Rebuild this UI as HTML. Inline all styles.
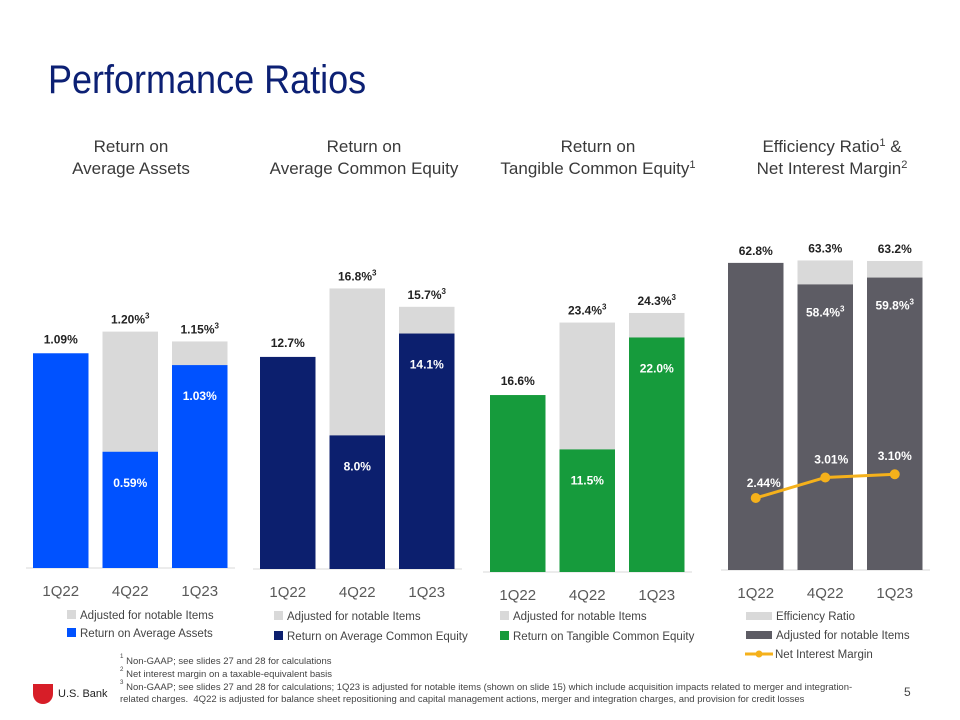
<!DOCTYPE html>
<html><head><meta charset="utf-8"><style>
body{margin:0;width:960px;height:720px;background:#fff;font-family:"Liberation Sans",sans-serif;position:relative;overflow:hidden}
.t{position:absolute;white-space:nowrap}
.h{position:absolute;text-align:center;font-size:17px;color:#3a3a3a;line-height:22px;width:230px}
.fn{position:absolute;left:120px;font-size:9.5px;color:#444;line-height:12px;width:760px}
sup{font-size:65%;line-height:0;vertical-align:6px}
</style></head><body>
<div class="t" style="left:48px;top:58px;font-size:40px;color:#0c2074;transform:scaleX(0.9);transform-origin:0 0">Performance Ratios</div>
<div class="h" style="left:16px;top:136px">Return on<br>Average Assets</div>
<div class="h" style="left:249px;top:136px">Return on<br>Average Common Equity</div>
<div class="h" style="left:483px;top:136px">Return on<br>Tangible Common Equity<sup>1</sup></div>
<div class="h" style="left:717px;top:136px">Efficiency Ratio<sup>1</sup> &amp;<br>Net Interest Margin<sup>2</sup></div>
<svg id="c" width="960" height="720" style="position:absolute;left:0;top:0"></svg>
<div class="fn" style="top:656px"><sup>1</sup> Non-GAAP; see slides 27 and 28 for calculations</div>
<div class="fn" style="top:669px"><sup>2</sup> Net interest margin on a taxable-equivalent basis</div>
<div class="fn" style="top:682px"><sup>3</sup> Non-GAAP; see slides 27 and 28 for calculations; 1Q23 is adjusted for notable items (shown on slide 15) which include acquisition impacts related to merger and integration-related charges.&nbsp; 4Q22 is adjusted for balance sheet repositioning and capital management actions, merger and integration charges, and provision for credit losses</div>
<div style="position:absolute;left:33px;top:684px;width:20px;height:20px;background:#d71e28;border-radius:0 0 10px 10px"></div>
<div class="t" style="left:58px;top:688px;font-size:11px;color:#222">U.S. Bank</div>
<div class="t" style="left:904px;top:685px;font-size:12px;color:#444">5</div>
<script>
const categories=["1Q22","4Q22","1Q23"];
const roaaReported=[1.09,0.59,1.03];
const roaaAdjusted=[null,1.20,1.15];
const roaceReported=[12.7,8.0,14.1];
const roaceAdjusted=[null,16.8,15.7];
const rotceReported=[16.6,11.5,22.0];
const rotceAdjusted=[null,23.4,24.3];
const effReported=[62.8,63.3,63.2];
const effAdjusted=[null,58.4,59.8];
const nimValues=[2.44,3.01,3.10];
const roaaLabels=["1.09%","0.59%","1.03%"],roaaAdjLabels=["","1.20%","1.15%"];
const roaceLabels=["12.7%","8.0%","14.1%"],roaceAdjLabels=["","16.8%","15.7%"];
const rotceLabels=["16.6%","11.5%","22.0%"],rotceAdjLabels=["","23.4%","24.3%"];
const effLabels=["62.8%","63.3%","63.2%"],effAdjLabels=["","58.4%","59.8%"];
const nimLabels=["2.44%","3.01%","3.10%"];

const svg=document.getElementById('c');const NS="http://www.w3.org/2000/svg";
function el(t,a,p){const e=document.createElementNS(NS,t);for(const k in a)e.setAttribute(k,a[k]);(p||svg).appendChild(e);return e;}
function txt(x,y,s,o){const e=el('text',Object.assign({x:x,y:y,'font-family':'Liberation Sans, sans-serif','font-size':12,'text-anchor':'middle'},o||{}));
  const parts=s.split('^');e.textContent=parts[0];if(parts[1]){const ts=el('tspan',{dy:-5,'font-size':8},e);ts.textContent=parts[1];}return e;}

function chart(cfg){
  const g=el('g',{});
  
  
  const y=v=>cfg.base-v*cfg.scale;
  const ax=el('line',{x1:cfg.x0-7,x2:cfg.x0+202,y1:cfg.base,y2:cfg.base,stroke:'#d9d9d9','stroke-width':1},g);
  
  
  categories.forEach((c,i)=>{
    const bx=cfg.x0+i*69.5, w=55.5, cx=bx+w/2;
    if(cfg.grey){
      const tot=cfg.rep[i];
      const r1=el('rect',{x:bx,y:y(tot),width:w,height:cfg.base-y(tot),fill:'#d9d9d9'},g);
      
      
      const inner=cfg.adj[i]!=null?cfg.adj[i]:tot;
      const r2=el('rect',{x:bx,y:y(inner),width:w,height:cfg.base-y(inner),fill:cfg.color},g);
      
      
      const l=txt(cx,y(tot)-8,cfg.repL[i],{'font-weight':'bold',fill:'#222'});g.appendChild(l);
      if(cfg.adj[i]!=null){const l2=txt(cx,y(inner)+32,cfg.adjL[i]+'^3',{'font-weight':'bold',fill:'#fff'});g.appendChild(l2);}
    } else {
      if(cfg.adj[i]!=null){
        const r1=el('rect',{x:bx,y:y(cfg.adj[i]),width:w,height:cfg.base-y(cfg.adj[i]),fill:'#d9d9d9'},g);
        
        
        const l=txt(cx,y(cfg.adj[i])-8,cfg.adjL[i]+'^3',{'font-weight':'bold',fill:'#222'});g.appendChild(l);
      }
      const r2=el('rect',{x:bx,y:y(cfg.rep[i]),width:w,height:cfg.base-y(cfg.rep[i]),fill:cfg.color},g);
      
      
      if(cfg.adj[i]!=null){const l=txt(cx,y(cfg.rep[i])+35,cfg.repL[i],{'font-weight':'bold',fill:'#fff'});g.appendChild(l);}
      else {const l=txt(cx,y(cfg.rep[i])-10,cfg.repL[i],{'font-weight':'bold',fill:'#222'});g.appendChild(l);}
    }
    const cl=txt(cx,cfg.base+28,c,{'font-size':15,fill:'#595959'});g.appendChild(cl);
  });
  return g;
}
chart({name:'roaa-chart',x0:33,base:568,scale:197,rep:roaaReported,adj:roaaAdjusted,repL:roaaLabels,adjL:roaaAdjLabels,color:'#0052ff'});
chart({name:'roace-chart',x0:260,base:569,scale:16.7,rep:roaceReported,adj:roaceAdjusted,repL:roaceLabels,adjL:roaceAdjLabels,color:'#0c1f6e'});
chart({name:'rotce-chart',x0:490,base:572,scale:10.66,rep:rotceReported,adj:rotceAdjusted,repL:rotceLabels,adjL:rotceAdjLabels,color:'#169b3c'});
chart({name:'efficiency-chart',x0:728,base:570,scale:4.89,grey:true,rep:effReported,adj:effAdjusted,repL:effLabels,adjL:effAdjLabels,color:'#5d5c64'});
const nimY=v=>498-(v-2.44)*36;
const nimX=i=>755.75+i*69.5;
const pts=nimValues.map((v,i)=>nimX(i)+','+nimY(v)).join(' ');
const pl=el('polyline',{points:pts,fill:'none',stroke:'#f5b11b','stroke-width':3});


nimValues.forEach((v,i)=>{
  const c=el('circle',{cx:nimX(i),cy:nimY(v),r:5,fill:'#f5b11b'});
  
  
  txt(nimX(i)+(i==0?8:i==1?6:0),nimY(v)-(i==0?11:14),nimLabels[i],{'font-weight':'bold',fill:'#fff'});
});
function leg(x,y,sw,label,name,type){
  const g=el('g',{});
  
  
  if(type==='line'){el('line',{x1:x,x2:x+28,y1:y,y2:y,stroke:'#f5b11b','stroke-width':3},g);el('circle',{cx:x+14,cy:y,r:3.5,fill:'#f5b11b'},g);}
  else if(type==='wide'){el('rect',{x:x,y:y-4,width:26,height:8,fill:sw},g);}
  else el('rect',{x:x,y:y-5,width:9,height:9,fill:sw},g);
  const t=txt(x+(type?30:13),y+4,label,{'text-anchor':'start','font-size':11.5,fill:'#444'});g.appendChild(t);
}
leg(67,615,'#d9d9d9','Adjusted for notable Items','roaa-legend-adjusted');
leg(67,633,'#0052ff','Return on Average Assets','roaa-legend-reported');
leg(274,616,'#d9d9d9','Adjusted for notable Items','roace-legend-adjusted');
leg(274,636,'#0c1f6e','Return on Average Common Equity','roace-legend-reported');
leg(500,616,'#d9d9d9','Adjusted for notable Items','rotce-legend-adjusted');
leg(500,636,'#169b3c','Return on Tangible Common Equity','rotce-legend-reported');
leg(746,616,'#d9d9d9','Efficiency Ratio','eff-legend-ratio','wide');
leg(746,635,'#5d5c64','Adjusted for notable Items','eff-legend-adjusted','wide');
leg(745,654,'','Net Interest Margin','eff-legend-nim','line');
</script>
</body></html>
